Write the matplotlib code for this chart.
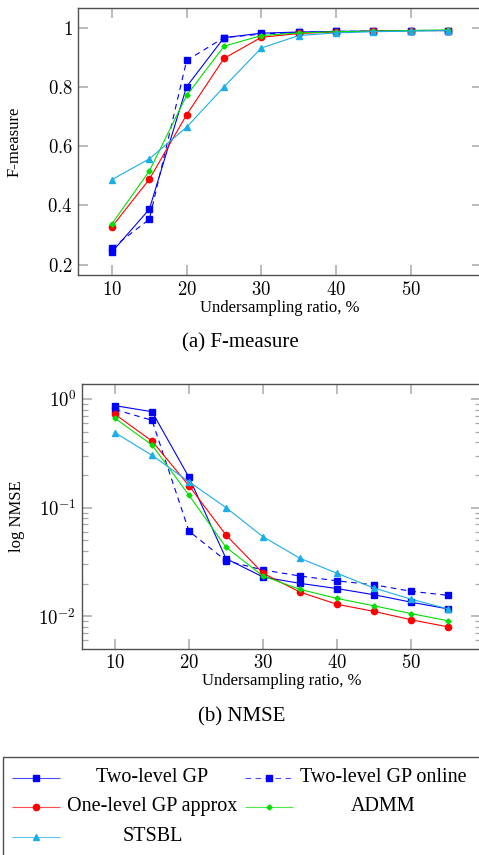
import numpy as np
import matplotlib
matplotlib.use("Agg")
import matplotlib.pyplot as plt
from matplotlib.ticker import FixedLocator, FuncFormatter, NullFormatter, LogLocator
from matplotlib.patches import Rectangle

plt.rcParams["font.family"] = ["Liberation Serif", "DejaVu Serif"]
plt.rcParams["mathtext.fontset"] = "cm"

# ---- data ----
ratio = [10, 15, 20, 25, 30, 35, 40, 45, 50, 55]

f_two = [0.243, 0.387, 0.801, 0.966, 0.981, 0.985, 0.987, 0.988, 0.990, 0.990]
f_online = [0.256, 0.353, 0.889, 0.966, 0.978, 0.984, 0.987, 0.988, 0.990, 0.990]
f_one = [0.328, 0.488, 0.706, 0.896, 0.967, 0.980, 0.985, 0.988, 0.990, 0.990]
f_admm = [0.338, 0.516, 0.771, 0.937, 0.973, 0.982, 0.986, 0.988, 0.990, 0.992]
f_stsbl = [0.487, 0.557, 0.664, 0.800, 0.931, 0.973, 0.982, 0.986, 0.988, 0.990]

n_two = [0.868, 0.764, 0.190, 0.0340, 0.0230, 0.0201, 0.0180, 0.0158, 0.0135, 0.0117]
n_online = [0.800, 0.637, 0.0607, 0.0325, 0.0267, 0.0235, 0.0212, 0.0195, 0.0170, 0.0156]
n_one = [0.723, 0.410, 0.159, 0.0560, 0.0249, 0.0167, 0.0129, 0.0111, 0.0093, 0.0080]
n_admm = [0.664, 0.377, 0.130, 0.0432, 0.0235, 0.0177, 0.0146, 0.0125, 0.0106, 0.0091]
n_stsbl = [0.490, 0.303, 0.173, 0.100, 0.054, 0.0342, 0.0249, 0.0182, 0.0144, 0.0117]

labels = ["Two-level GP", "Two-level GP online", "One-level GP approx", "ADMM", "STSBL"]

# ---- styles ----
BLUE, RED, GREEN, CYAN = "#0000ff", "#ff0000", "#00e000", "#1aaee8"
styles = [
    dict(color=BLUE, marker="s", ms=4.5, lw=0.8),
    dict(color=BLUE, marker="s", ms=4.5, lw=0.8, dashes=(5, 4)),
    dict(color=RED, marker="o", ms=4.5, lw=0.8),
    dict(color=GREEN, marker="D", ms=2.6, lw=0.8),
    dict(color=CYAN, marker="^", ms=4.2, lw=0.8),
]

W, H = 479, 855
fig = plt.figure(figsize=(W / 100, H / 100), dpi=100)

def px_axes(l, r, t, b):
    return fig.add_axes([l / W, 1 - b / H, (r - l) / W, (b - t) / H])

def style_axes(ax):
    for s in ax.spines.values():
        s.set_color("#505050"); s.set_linewidth(1.0)
    ax.tick_params(which="both", direction="in", top=True, right=True, color="#a8a8a8")
    ax.tick_params(which="major", length=7, width=1.1, labelsize=13.5, pad=4)
    ax.tick_params(which="minor", length=4, width=0.9)
    ax.xaxis.set_major_locator(FixedLocator([10, 20, 30, 40, 50]))
    ax.xaxis.set_major_formatter(FuncFormatter(lambda v, p: f"${v:g}$"))
    ax.set_xlim(5.5, 59.5)

# ---- (a) F-measure ----
ax1 = px_axes(78.4, 481.6, 8, 275)
for ys, st in zip([f_two, f_online, f_one, f_admm, f_stsbl], styles):
    ax1.plot(ratio, ys, **st)
style_axes(ax1)
ax1.set_ylim(0.165, 1.066)
ax1.yaxis.set_major_locator(FixedLocator([0.2, 0.4, 0.6, 0.8, 1.0]))
ax1.yaxis.set_major_formatter(FuncFormatter(lambda v, p: f"${v:g}$"))
ax1.set_ylabel("F-measure", fontsize=12, va="center")
ax1.yaxis.set_label_coords((15 - 78.4) / 403.2, 0.5)
ax1.set_xlabel("Undersampling ratio, %", fontsize=12, va="center")
ax1.xaxis.set_label_coords(0.5, (275 - 307.5) / 267)
fig.text(240 / W, 1 - 343 / H, "(a) F-measure", fontsize=15, ha="center", va="center")

# ---- (b) NMSE ----
ax2 = px_axes(81.7, 481.3, 384, 648.7)
for ys, st in zip([n_two, n_online, n_one, n_admm, n_stsbl], styles):
    ax2.plot(ratio, ys, **st)
ax2.set_yscale("log")
style_axes(ax2)
ax2.set_ylim(10 ** -2.298, 10 ** 0.138)
ax2.yaxis.set_major_locator(LogLocator(base=10))
ax2.yaxis.set_minor_locator(LogLocator(base=10, subs=np.arange(2, 10)))
ax2.yaxis.set_major_formatter(FuncFormatter(lambda v, p: f"$10^{{{int(round(np.log10(v)))}}}$"))
ax2.yaxis.set_minor_formatter(NullFormatter())
ax2.set_ylabel("log NMSE", fontsize=12, va="center")
ax2.yaxis.set_label_coords((17 - 81.7) / 399.6, 0.5)
ax2.set_xlabel("Undersampling ratio, %", fontsize=12, va="center")
ax2.xaxis.set_label_coords(0.5, (648.7 - 681) / 264.7)
fig.text(242 / W, 1 - 717 / H, "(b) NMSE", fontsize=15, ha="center", va="center")

# ---- legend (drawn by hand, pgfplots style: centred text) ----
lg = fig.add_axes([0, 0, 1, 1], facecolor="none")
lg.set_xlim(0, W); lg.set_ylim(H, 0); lg.axis("off")
lg.add_patch(Rectangle((3.3, 756.7), W, H, fill=False, ec="#505050", lw=1.0))
rows = [777.7, 806.7, 836.7]
cols = [(12, 60, 152.5), (245, 293, 383)]
for i, (lab, st) in enumerate(zip(labels, styles)):
    x0, x1, xt = cols[i % 2]
    y = rows[i // 2]
    lg.plot([x0, x1], [y, y], color=st["color"], lw=st["lw"], alpha=0.7,
            dashes=st.get("dashes", (1, 0)))
    lg.plot([(x0 + x1) / 2], [y], color=st["color"], marker=st["marker"], ms=st["ms"], ls="none")
    lg.text(xt, y, lab, fontsize=14.5, ha="center", va="center")

fig.savefig("out.png", dpi=100)
